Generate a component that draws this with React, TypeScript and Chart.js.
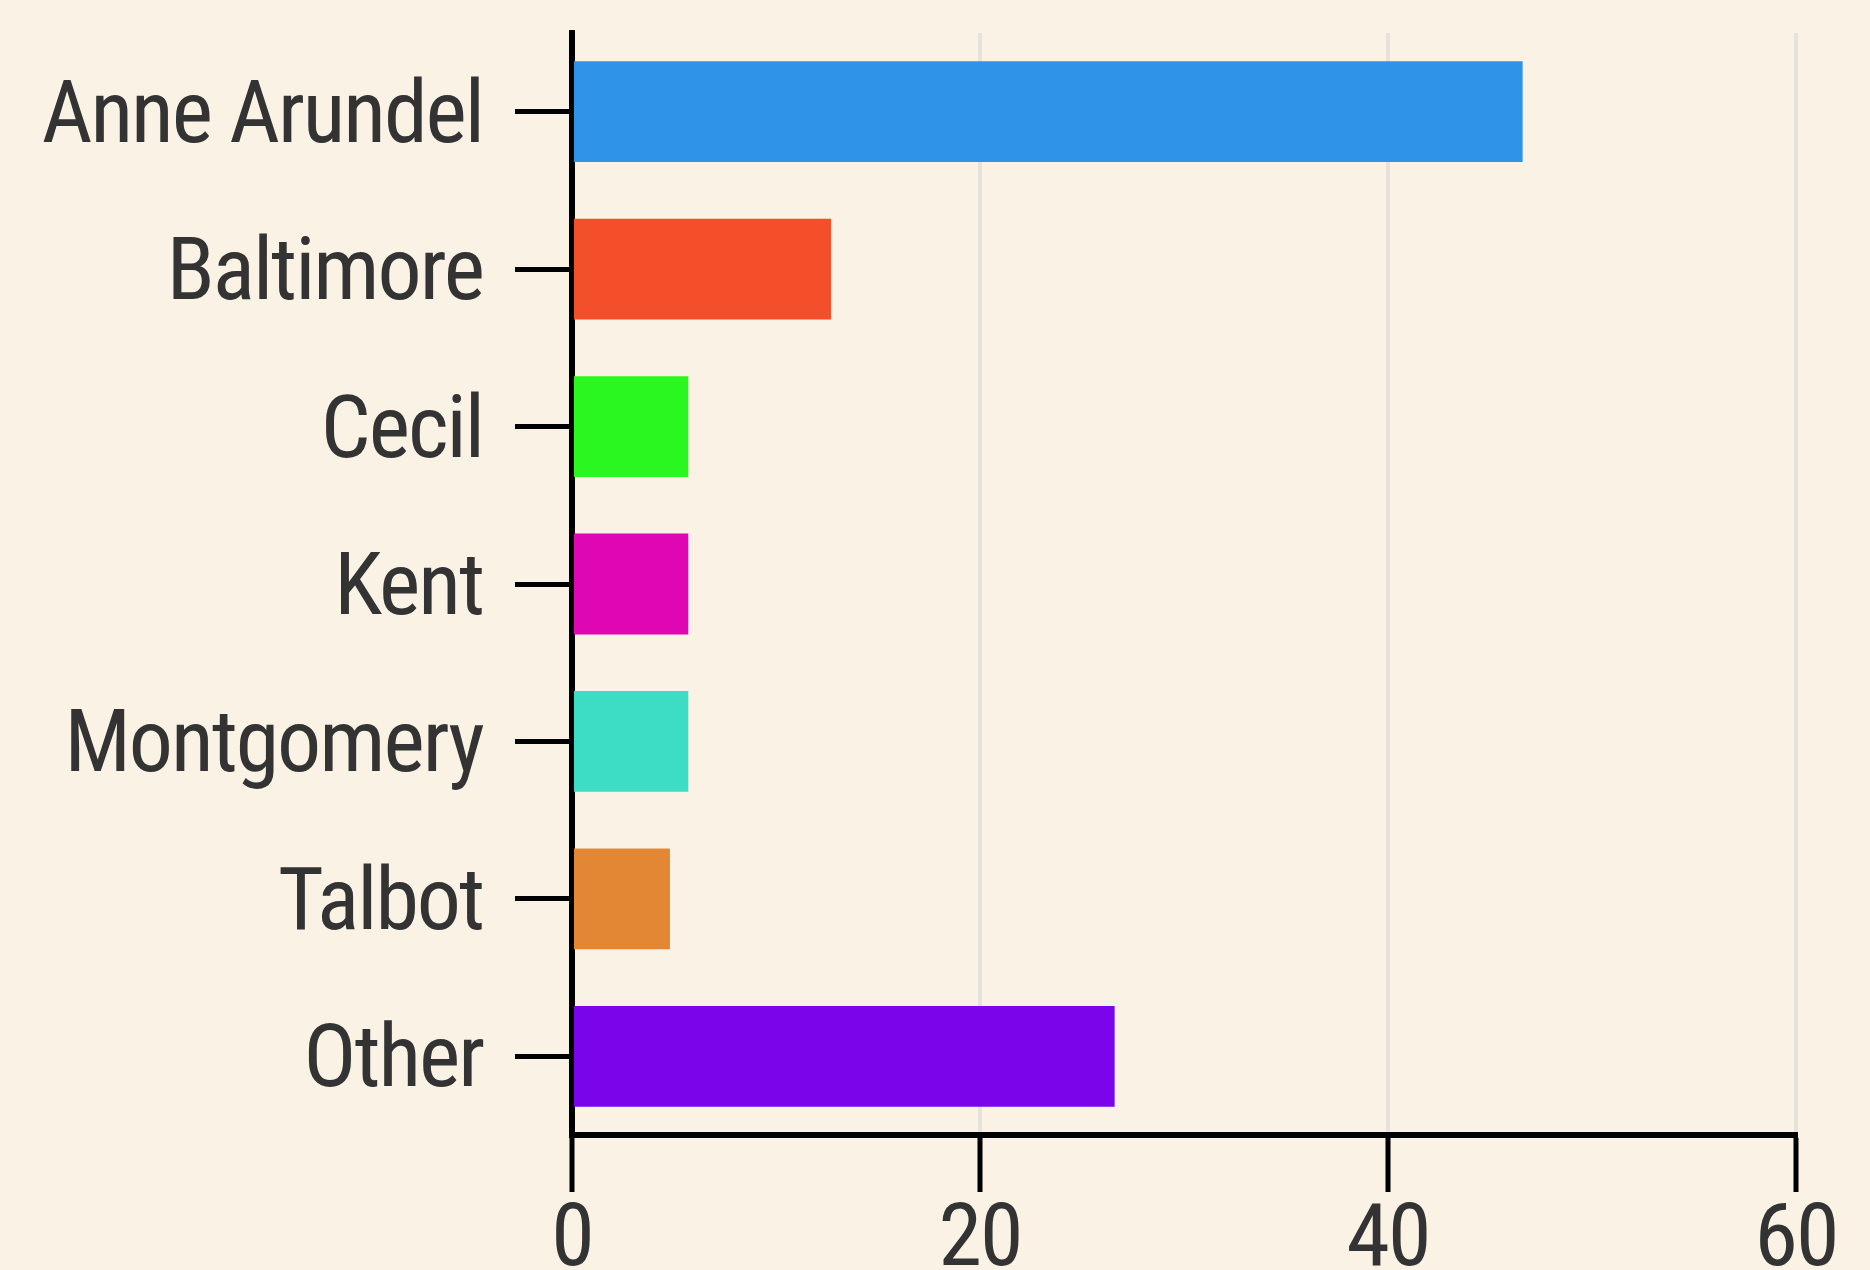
import React, { useEffect, useRef } from 'react';
import { Chart, registerables } from 'chart.js';

Chart.register(...registerables);

const categories = ['Anne Arundel', 'Baltimore', 'Cecil', 'Kent', 'Montgomery', 'Talbot', 'Other'];
const values = [46.6, 12.7, 5.7, 5.7, 5.7, 4.8, 26.6];
const barColors = ['#2F93E8', '#F44F2B', '#2AF71F', '#DF07B3', '#3DDCC4', '#E38735', '#7A04EA'];
const xTicks = [0, 20, 40, 60];

const W = 1870;
const H = 1270;

const font = {
  family: "'Roboto Condensed', 'Liberation Sans Narrow', 'DejaVu Sans Condensed', sans-serif",
  size: 88,
};

const spacingPlugin = {
  id: 'letterSpacing',
  beforeDraw(chart: any) {
    chart.ctx.letterSpacing = '-2px';
  },
};

export default function App() {
  const ref = useRef<HTMLCanvasElement>(null);
  useEffect(() => {
    const chart = new Chart(ref.current as HTMLCanvasElement, {
      type: 'bar',
      data: {
        labels: categories,
        datasets: [
          {
            data: values,
            backgroundColor: barColors,
            borderWidth: 0,
            barPercentage: 0.8,
            categoryPercentage: 0.8,
          },
        ],
      },
      plugins: [spacingPlugin],
      options: {
        indexAxis: 'y',
        responsive: false,
        animation: false,
        devicePixelRatio: 1,
        layout: { padding: { top: 33, right: 74, left: 0, bottom: 0 } },
        plugins: { legend: { display: false }, tooltip: { enabled: false } },
        scales: {
          x: {
            min: 0,
            max: 60,
            afterBuildTicks: (s: any) => {
              s.ticks = xTicks.map((v) => ({ value: v }));
            },
            grid: { color: '#E6E2DC', lineWidth: 4, tickColor: '#000', tickWidth: 5, tickLength: 57 },
            border: { color: '#000', width: 6 },
            ticks: { font, color: '#333', padding: -2, maxRotation: 0 },
            afterFit: (s: any) => {
              s.height = H - 1135;
            },
          },
          y: {
            grid: { drawOnChartArea: false, offset: false, color: '#000', lineWidth: 5, tickLength: 57 },
            border: { color: '#000', width: 6 },
            ticks: { font, color: '#333', padding: 32, labelOffset: 8 },
            afterFit: (s: any) => {
              s.width = 572;
              s.paddingTop = 0;
              s.paddingBottom = 0;
            },
          },
        },
      },
    });
    return () => chart.destroy();
  }, []);
  return (
    <div style={{ position: 'fixed', left: 0, top: 0, width: W, height: H, background: '#FAF2E4' }}>
      <canvas ref={ref} width={W} height={H} style={{ display: 'block', width: W, height: H }} />
    </div>
  );
}
